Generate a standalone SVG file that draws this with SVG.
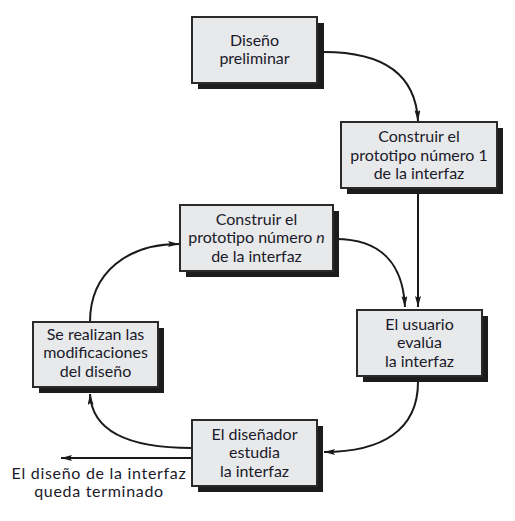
<svg xmlns="http://www.w3.org/2000/svg" width="515" height="521" viewBox="0 0 515 521">
<style>
.shadow{fill:#1c1c1c}
.box{fill:#e8e9ea;stroke:#2a2a2a;stroke-width:2}
.t{font-family:Lato,"Liberation Sans",sans-serif;font-size:16px;fill:#1a1a2a;text-anchor:middle}
.w{letter-spacing:0.7px}
.c{fill:none;stroke:#1a1a1a;stroke-width:2}
</style>
<defs>
<marker id="ah" markerUnits="userSpaceOnUse" markerWidth="12" markerHeight="8" refX="11" refY="3" orient="auto">
<path d="M0,0 L11,3 L0,6 L2,3 z" fill="#1a1a1a"/>
</marker>
</defs>
<rect width="515" height="521" fill="#ffffff"/>
<g id="connectors">
<path class="c" d="M317,52 C390,50 416,80 418,121" marker-end="url(#ah)"/>
<path class="c" d="M418,194 L418,307" marker-end="url(#ah)"/>
<path class="c" d="M333,239 C382,238 403,265 405,307" marker-end="url(#ah)"/>
<path class="c" d="M90,322 C90,272 128,244 179,244" marker-end="url(#ah)"/>
<path class="c" d="M418,382 C418,430 382,452 324,452" marker-end="url(#ah)"/>
<path class="c" d="M192,448 C130,448 92,432 90,394" marker-end="url(#ah)"/>
<path class="c" d="M192,458 L61,458" marker-end="url(#ah)"/>
</g>
<g id="n1">
<rect class="shadow" x="198" y="23" width="126" height="66"/>
<rect class="box" x="192" y="17" width="125" height="66"/>
<text class="t" x="254.5" y="46">Diseño</text>
<text class="t" x="254.5" y="64">preliminar</text>
</g>
<g id="n2">
<rect class="shadow" x="347" y="128" width="156" height="66"/>
<rect class="box" x="341" y="122" width="156" height="66"/>
<text class="t" x="419" y="142">Construir el</text>
<text class="t" x="419" y="161">prototipo número 1</text>
<text class="t" x="419" y="179">de la interfaz</text>
</g>
<g id="n3">
<rect class="shadow" x="186" y="211" width="153" height="66"/>
<rect class="box" x="180" y="205" width="153" height="66"/>
<text class="t" x="256.5" y="225">Construir el</text>
<text class="t" x="256.5" y="243">prototipo número <tspan font-style="italic">n</tspan></text>
<text class="t" x="256.5" y="262">de la interfaz</text>
</g>
<g id="n4">
<rect class="shadow" x="363" y="316" width="125" height="66"/>
<rect class="box" x="357" y="310" width="125" height="66"/>
<text class="t" x="419.5" y="330">El usuario</text>
<text class="t" x="419.5" y="348">evalúa</text>
<text class="t" x="419.5" y="367">la interfaz</text>
</g>
<g id="n5">
<rect class="shadow" x="39" y="328" width="125" height="65"/>
<rect class="box" x="33" y="322" width="125" height="65"/>
<text class="t" x="95.5" y="339.5">Se realizan las</text>
<text class="t" x="95.5" y="358">modificaciones</text>
<text class="t" x="95.5" y="377">del diseño</text>
</g>
<g id="n6">
<rect class="shadow" x="198" y="426" width="125" height="66"/>
<rect class="box" x="192" y="420" width="125" height="66"/>
<text class="t" x="254.5" y="440">El diseñador</text>
<text class="t" x="254.5" y="458">estudia</text>
<text class="t" x="254.5" y="477">la interfaz</text>
</g>
<g id="end">
<text class="t w" x="99" y="479">El diseño de la interfaz</text>
<text class="t w" x="99" y="497">queda terminado</text>
</g>
</svg>
